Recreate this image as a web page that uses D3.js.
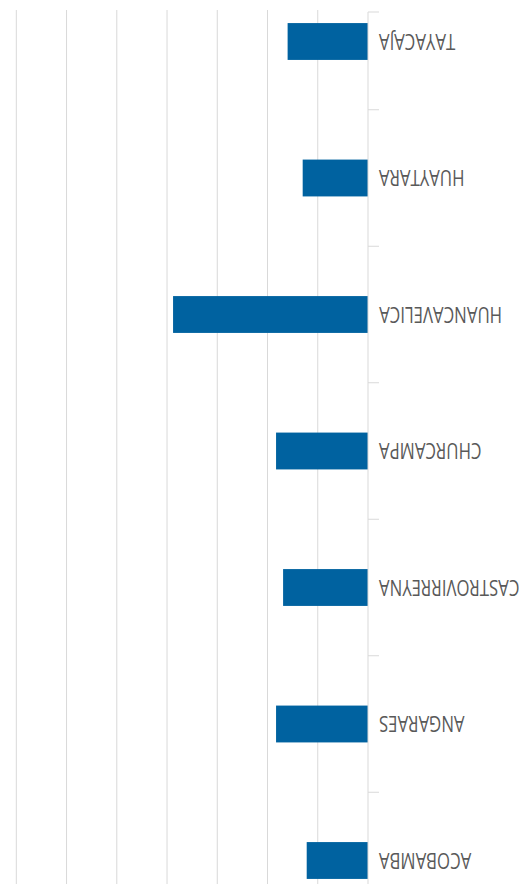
<!DOCTYPE html>
<html>
<head>
<meta charset="utf-8">
<script src="https://cdn.jsdelivr.net/npm/d3@7/dist/d3.min.js"></script>
<style>
  body{margin: 0; background: #fff;}
  svg{display: block;}
  .label{font-family: 'Open Sans', 'Liberation Sans', sans-serif; fill: #595959;}
</style>
</head>
<body>
<div class='chart'></div>
<script>
var provincias = ['ACOBAMBA', 'ANGARAES', 'CASTROVIRREYNA', 'CHURCAMPA', 'HUANCAVELICA', 'HUAYTARA', 'TAYACAJA']
var valores    = [6.1, 9.15, 8.45, 9.15, 19.4, 6.5, 8.0]
var gridTicks  = [5, 10, 15, 20, 25, 30, 35]

var width = 519, height = 884

var data = provincias.map((d, i) => ({name: d, value: valores[i]}))

var svg = d3.select('.chart').append('svg')
  .attr('width', width).attr('height', height)

// the whole chart comes out upside down in the reference, so draw it normally and spin it
var g = svg.append('g')
  .attr('transform', `rotate(180 ${width/2} ${height/2})`)

var plotBottom = 873

var x = d3.scaleLinear().domain([0, 35]).range([151, 502.7])

var y = d3.scaleBand()
  .domain(provincias)
  .range([-44.75, 910.75])
  .paddingInner(0.73)
  .paddingOuter(0.365)

g.selectAll('line.grid').data(gridTicks).join('line')
  .attr('class', 'grid')
  .attr('x1', d => x(d)).attr('x2', d => x(d))
  .attr('y1', 0).attr('y2', plotBottom + 1)
  .attr('stroke', '#d9d9d9').attr('stroke-width', 1)

g.selectAll('rect.bar').data(data).join('rect')
  .attr('class', 'bar')
  .attr('x', x(0))
  .attr('y', d => y(d.name))
  .attr('width', d => x(d.value) - x(0))
  .attr('height', y.bandwidth())
  .attr('fill', '#0062a0')

// category axis: line, boundary ticks and labels
var boundaries = d3.range(1, provincias.length).map(i => y.range()[0] + i*y.step())
boundaries.push(plotBottom - 1)

g.append('line')
  .attr('x1', x(0)).attr('x2', x(0))
  .attr('y1', 0).attr('y2', plotBottom - 1)
  .attr('stroke', '#d9d9d9')

g.selectAll('line.tick').data(boundaries).join('line')
  .attr('class', 'tick')
  .attr('x1', x(0) - 11).attr('x2', x(0))
  .attr('y1', d => d).attr('y2', d => d)
  .attr('stroke', '#d9d9d9')

// reference type is a tall condensed face, squeeze a normal one sideways
g.selectAll('text.label').data(data).join('text')
  .attr('class', 'label')
  .attr('transform', d => `translate(${x(0) - 11},${y(d.name) + y.bandwidth()/2}) scale(0.8,1)`)
  .attr('dy', '0.36em')
  .attr('text-anchor', 'end')
  .style('font-size', '21px')
  .text(d => d.name)
</script>
</body>
</html>
